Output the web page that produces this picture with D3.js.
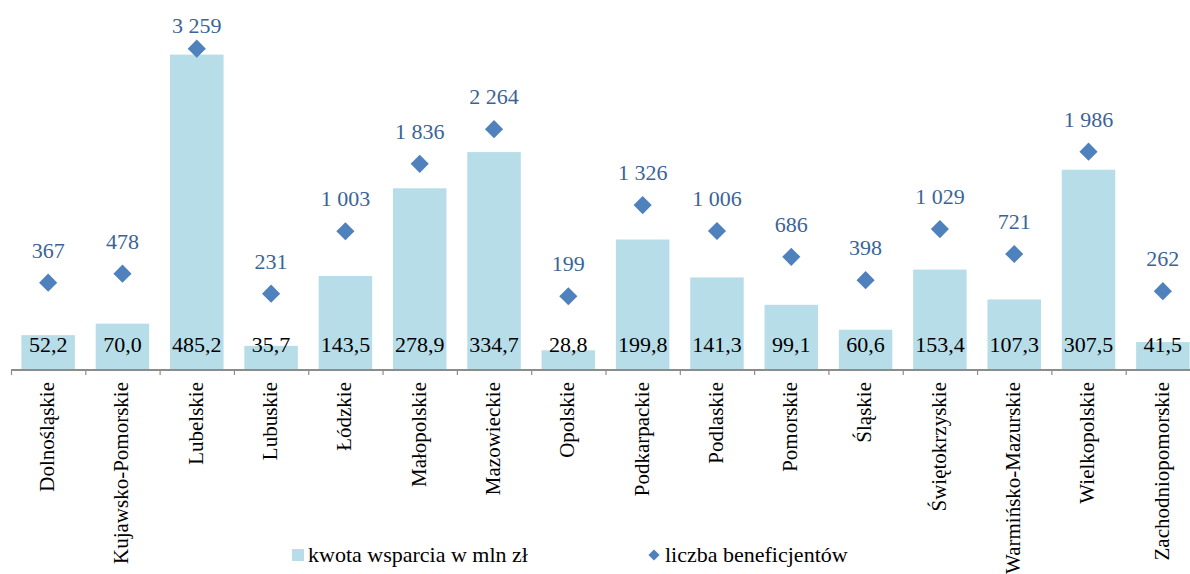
<!DOCTYPE html>
<html>
<head>
<meta charset="utf-8">
<script src="https://cdn.jsdelivr.net/npm/d3@7"></script>
<style>
  html, body { margin: 0; padding: 0; background: #fff; }
  svg { display: block; }
  text { font-family: "Liberation Serif", "DejaVu Serif", serif; }
</style>
</head>
<body>
<svg id="chart" width="1190" height="574"></svg>
<script>
// Województwa
const regions = [
  "Dolnośląskie", "Kujawsko-Pomorskie", "Lubelskie", "Lubuskie", "Łódzkie",
  "Małopolskie", "Mazowieckie", "Opolskie", "Podkarpackie", "Podlaskie",
  "Pomorskie", "Śląskie", "Świętokrzyskie", "Warmińsko-Mazurskie",
  "Wielkopolskie", "Zachodniopomorskie"
];
// kwota wsparcia w mln zł
const support = [52.2, 70.0, 485.2, 35.7, 143.5, 278.9, 334.7, 28.8, 199.8, 141.3, 99.1, 60.6, 153.4, 107.3, 307.5, 41.5];
// liczba beneficjentów
const beneficiaries = [367, 478, 3259, 231, 1003, 1836, 2264, 199, 1326, 1006, 686, 398, 1029, 721, 1986, 262];
// legend entries
const legendItems = ["kwota wsparcia w mln zł", "liczba beneficjentów"];

const barColor = "#B7DDE8";
const pointColor = "#4F81BD";
const pointLabelColor = "#3B6496";
const axisColor = "#8C8C8C";

const svg = d3.select("#chart");
const baseY = 369;

const x = d3.scaleBand()
  .domain(regions)
  .range([11, 1200])
  .paddingInner(0.28)
  .paddingOuter(0.14);

// primary axis (bars) and secondary axis (markers), both hidden
const y = d3.scaleLinear().domain([0, 550]).range([baseY, 12.6]);
const y2 = d3.scaleLinear().domain([-700, 3700]).range([baseY, 13]);

const fmtBar = v => d3.format(".1f")(v).replace(".", ",");
const fmtCount = v => d3.format(",")(v).replace(/,/g, " ");

const data = regions.map((r, i) => ({ region: r, amount: support[i], count: beneficiaries[i] }));

// bars
svg.append("g").selectAll("rect")
  .data(data)
  .join("rect")
  .attr("x", d => x(d.region))
  .attr("y", d => y(d.amount))
  .attr("width", x.bandwidth())
  .attr("height", d => y(0) - y(d.amount))
  .attr("fill", barColor);

// bar value labels at the base of each bar
svg.append("g").selectAll("text")
  .data(data)
  .join("text")
  .attr("x", d => x(d.region) + x.bandwidth() / 2)
  .attr("y", 351.5)
  .attr("text-anchor", "middle")
  .attr("font-size", 22)
  .attr("fill", "#000")
  .text(d => fmtBar(d.amount));

// category axis
const axisG = svg.append("g");
const step = x.step();
const x0 = x.range()[0];
axisG.append("line")
  .attr("x1", x0).attr("x2", x.range()[1])
  .attr("y1", baseY + 1).attr("y2", baseY + 1)
  .attr("stroke", axisColor).attr("stroke-width", 2);
axisG.selectAll("line.tick")
  .data(d3.range(regions.length + 1))
  .join("line")
  .attr("class", "tick")
  .attr("x1", k => x0 + k * step + 0.5)
  .attr("x2", k => x0 + k * step + 0.5)
  .attr("y1", baseY + 1)
  .attr("y2", baseY + 6)
  .attr("stroke", axisColor).attr("stroke-width", 1.2);

axisG.selectAll("text")
  .data(regions)
  .join("text")
  .attr("transform", r => `translate(${x(r) + x.bandwidth() / 2},382) rotate(-90)`)
  .attr("dy", "0.28em")
  .attr("text-anchor", "end")
  .attr("font-size", 21)
  .attr("fill", "#000")
  .text(r => r);

// markers
const diamond = d3.symbol().type(d3.symbolDiamond2);
svg.append("g").selectAll("path")
  .data(data)
  .join("path")
  .attr("transform", d => `translate(${x(d.region) + x.bandwidth() / 2},${y2(d.count)}) rotate(0)`)
  .attr("d", diamond.size(210)())
  .attr("fill", pointColor);

// marker value labels
svg.append("g").selectAll("text")
  .data(data)
  .join("text")
  .attr("x", d => x(d.region) + x.bandwidth() / 2)
  .attr("y", d => Math.max(y2(d.count) - 25, 32.7))
  .attr("text-anchor", "middle")
  .attr("font-size", 22)
  .attr("fill", pointLabelColor)
  .text(d => fmtCount(d.count));

// legend
const leg = svg.append("g");
leg.append("rect")
  .attr("x", 292).attr("y", 549).attr("width", 12).attr("height", 12)
  .attr("fill", barColor);
leg.append("text")
  .attr("x", 308).attr("y", 562)
  .attr("font-size", 22)
  .attr("fill", "#000")
  .text(legendItems[0]);
leg.append("path")
  .attr("transform", "translate(654,555)")
  .attr("d", diamond.size(80)())
  .attr("fill", pointColor);
leg.append("text")
  .attr("x", 665).attr("y", 562)
  .attr("font-size", 22)
  .attr("fill", "#000")
  .text(legendItems[1]);
</script>
</body>
</html>
